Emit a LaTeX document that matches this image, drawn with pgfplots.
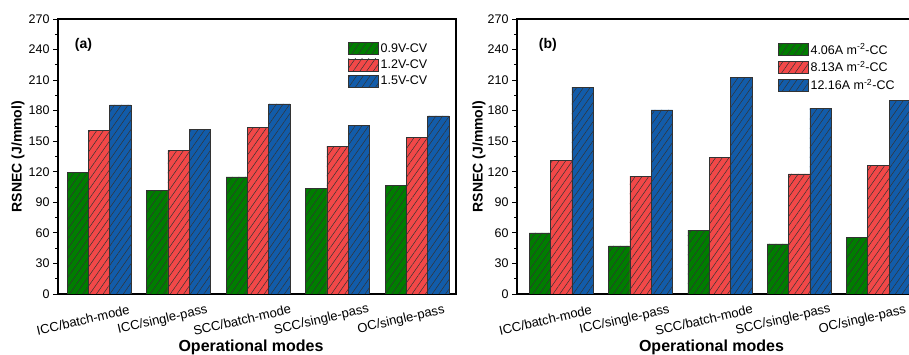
\documentclass[border=0pt]{standalone}
\usepackage{pgfplots}
\pgfplotsset{compat=1.18}
\usepackage{fontspec}
\setmainfont{Liberation Sans}
\usetikzlibrary{patterns.meta}
\definecolor{cG}{RGB}{0,125,0}
\definecolor{cR}{RGB}{242,72,72}
\definecolor{cB}{RGB}{18,92,170}
\pgfplotsset{
  panel/.style={
    scale only axis, height=275pt,
    anchor=south west,
    ybar=0pt, bar width=21.3pt,
    ymin=0, ymax=270, ytick={0,30,...,270}, minor y tick num=1,
    ytick pos=left, tick align=outside,
    major tick length=5pt, minor tick length=3pt,
    every tick/.style={black, line width=0.8pt},
    axis line style={line width=1.1pt},
    xtick={0,1,2,3,4},
    xticklabels={ICC/batch-mode,ICC/single-pass,SCC/batch-mode,SCC/single-pass,OC/single-pass},
    xtick style={draw=none},
    x tick label style={xshift=-16pt, yshift=-21pt, rotate=13, anchor=center, font=\fontsize{13}{15}\selectfont},
    y tick label style={font=\fontsize{12.5}{14}\selectfont},
    /pgf/number format/assume math mode=true,
    ylabel={\textbf{RSNEC (J/mmol)}},
    xlabel={\textbf{Operational modes}},
    xlabel style={at={(axis description cs:0.5,0)}, anchor=center, yshift=-53pt, xshift=-6pt, font=\fontsize{16}{18}\selectfont},
    legend image code/.code={\draw[##1] (0pt,-6pt) rectangle (30pt,6pt);},
    legend cell align=left,
    legend style={draw=none, fill=none, inner sep=0pt, outer sep=0pt, anchor=north west,
      font=\fontsize{12.5}{14}\selectfont, row sep=2pt},
  },
  hatchG/.style={fill=cG, draw=black!80, line width=0.5pt, postaction={pattern={Lines[angle=55,distance=5.5pt,line width=0.5pt]}, pattern color=black!80}},
  hatchR/.style={fill=cR, draw=black!80, line width=0.5pt, postaction={pattern={Lines[angle=55,distance=5.5pt,line width=0.5pt]}, pattern color=black!80}},
  hatchB/.style={fill=cB, draw=black!80, line width=0.5pt, postaction={pattern={Lines[angle=55,distance=5.5pt,line width=0.5pt]}, pattern color=black!80}},
}
\begin{document}
\begin{tikzpicture}
\begin{axis}[panel, at={(58pt,61pt)}, width=398pt, xmin=-0.516, xmax=4.49,
  ylabel style={at={(axis description cs:-0.1005,0.5)}, anchor=center, font=\fontsize{14}{16}\selectfont},
  legend style={at={(0.729,0.918)}}]
\addplot[hatchG] coordinates {(0,119.5) (1,101.5) (2,115) (3,103.5) (4,107)};
\addplot[hatchR] coordinates {(0,160.7) (1,141.1) (2,163.9) (3,145) (4,153.5)};
\addplot[hatchB] coordinates {(0,185.7) (1,161.3) (2,186.7) (3,165.5) (4,175)};
\legend{0.9V-CV,1.2V-CV,1.5V-CV}
\node[font=\bfseries\fontsize{14}{16}\selectfont] at (rel axis cs:0.064,0.905) {(a)};
\end{axis}
\begin{axis}[panel, at={(517pt,61pt)}, width=401pt, xmin=-0.559, xmax=4.5,
  ylabel style={at={(axis description cs:-0.0948,0.5)}, anchor=center, font=\fontsize{14}{16}\selectfont},
  legend style={at={(0.651,0.918)}}]
\addplot[hatchG] coordinates {(0,60) (1,47.2) (2,62.6) (3,49.2) (4,55.4)};
\addplot[hatchR] coordinates {(0,131.4) (1,115.8) (2,134.3) (3,118) (4,126.2)};
\addplot[hatchB] coordinates {(0,203) (1,180.8) (2,212.4) (3,182.5) (4,190)};
\legend{4.06A m\textsuperscript{-2}-CC,8.13A m\textsuperscript{-2}-CC,12.16A m\textsuperscript{-2}-CC}
\node[font=\bfseries\fontsize{14}{16}\selectfont] at (rel axis cs:0.077,0.905) {(b)};
\end{axis}
\pgfresetboundingbox
\useasboundingbox (0,0) rectangle (909pt,355pt);
\end{tikzpicture}
\end{document}
